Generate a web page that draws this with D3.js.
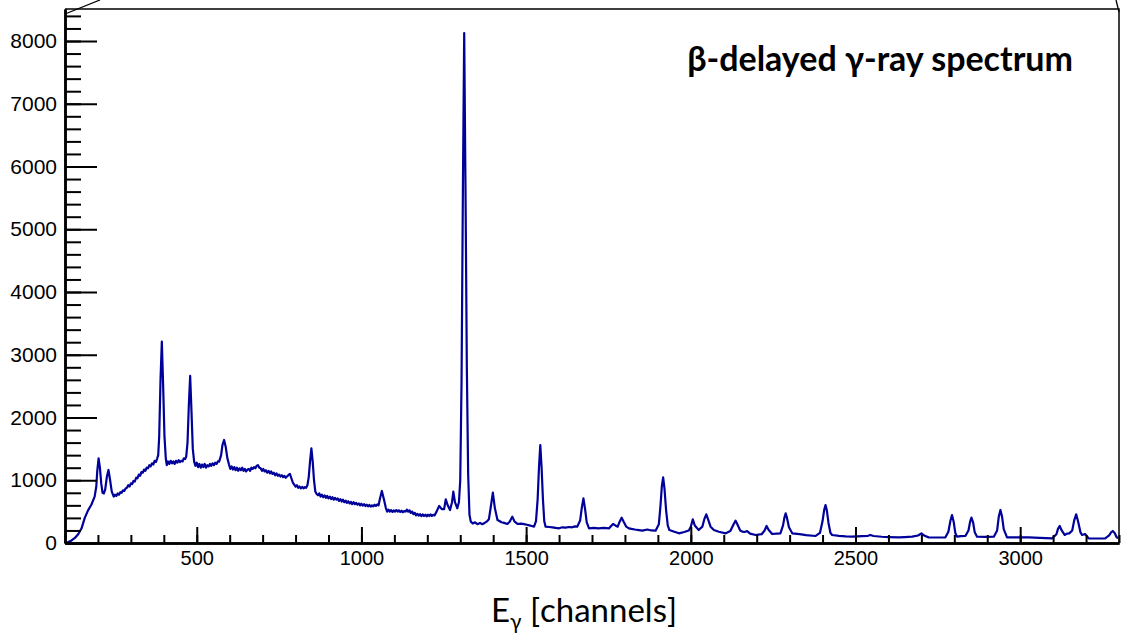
<!DOCTYPE html>
<html>
<head>
<meta charset="utf-8">
<script src="https://cdn.jsdelivr.net/npm/d3@7"></script>
<style>
  body { margin: 0; background: #fff; }
</style>
</head>
<body>
<div id="spectrum-wrapper"></div>
<script>

// Spectrum as [channel, counts], split in three ranges
const lowRange = [
  [103, 0], [110, 15], [120, 40], [130, 80], [140, 140], [150, 230], [160, 400], [170, 520], [180, 610], [190, 740],
  [195, 900], [198, 1150], [202, 1350], [206, 1200], [210, 950], [214, 800], [218, 790], [222, 850], [227, 1050], [232, 1164],
  [237, 1000], [242, 820], [248, 740], [252, 770], [256, 750], [260, 790], [264, 770], [268, 810], [272, 800], [276, 840],
  [280, 830], [284, 870], [288, 880], [292, 920], [296, 900], [300, 950], [304, 940], [308, 990], [312, 980], [316, 1040],
  [320, 1030], [324, 1090], [328, 1070], [332, 1130], [336, 1120], [340, 1170], [344, 1150], [348, 1200], [352, 1190], [356, 1240],
  [360, 1220], [364, 1270], [368, 1250], [372, 1310], [376, 1290], [380, 1350], [383, 1400], [386, 1700], [390, 2600], [394, 3209],
  [398, 2500], [402, 1700], [406, 1350], [409, 1240], [413, 1300], [417, 1260], [421, 1310], [425, 1270], [429, 1300], [433, 1260],
  [437, 1310], [441, 1280], [445, 1320], [449, 1290], [453, 1310], [457, 1300], [461, 1350], [465, 1340], [468, 1376], [472, 1600],
  [476, 2200], [480, 2662], [484, 2100], [488, 1500], [492, 1300], [496, 1230], [500, 1280], [504, 1210], [508, 1260], [512, 1200],
  [516, 1250], [520, 1210], [524, 1260], [528, 1200], [532, 1240], [536, 1220], [540, 1260], [544, 1230], [548, 1270], [552, 1240],
  [556, 1280], [560, 1260], [564, 1300], [568, 1297], [574, 1400], [578, 1560], [583, 1642], [588, 1530], [593, 1350], [598, 1250],
  [602, 1180], [606, 1220], [610, 1170], [614, 1210], [618, 1160], [622, 1200], [626, 1150], [630, 1190], [634, 1160], [638, 1200],
  [642, 1150], [646, 1180], [650, 1140], [654, 1170], [658, 1180], [662, 1150], [666, 1200], [670, 1180], [674, 1210], [678, 1190],
  [682, 1230], [686, 1240], [690, 1200], [694, 1190], [698, 1150], [702, 1180], [706, 1140], [710, 1160], [714, 1120], [718, 1150],
  [722, 1110], [726, 1140], [730, 1100], [734, 1120], [738, 1080], [742, 1110], [746, 1070], [750, 1090], [754, 1060], [758, 1080],
  [762, 1050], [766, 1070], [770, 1040], [774, 1060], [778, 1080], [783, 1100], [788, 1020], [792, 960], [796, 930], [800, 900],
  [804, 920], [808, 880], [812, 900], [816, 870], [820, 895], [824, 870], [828, 890], [832, 880], [836, 920], [840, 1050],
  [844, 1300], [848, 1509], [852, 1300], [856, 1000], [860, 820], [864, 780], [868, 760], [872, 790], [876, 740], [880, 770],
  [884, 730], [888, 760], [892, 720], [896, 750], [900, 710], [904, 740], [908, 700], [912, 730], [916, 690], [920, 720],
  [924, 690], [928, 710], [932, 670], [936, 700], [940, 660], [944, 690], [948, 650], [952, 675], [956, 640], [960, 665],
  [964, 630], [968, 655], [972, 620], [976, 650], [980, 620], [984, 640], [988, 610], [992, 630], [996, 600], [1000, 625],
  [1004, 595], [1008, 620], [1012, 590], [1016, 610], [1020, 585], [1024, 605], [1028, 580], [1032, 600], [1036, 585], [1040, 610],
  [1044, 590], [1048, 615], [1052, 600], [1056, 700], [1062, 829], [1068, 700], [1074, 560], [1078, 500], [1082, 530], [1086, 500],
  [1090, 525], [1094, 495], [1098, 520], [1102, 500], [1106, 525], [1110, 500], [1114, 520], [1118, 495], [1122, 515], [1126, 490],
  [1130, 510], [1134, 500], [1138, 530], [1142, 500], [1146, 520], [1150, 480], [1154, 500], [1158, 460], [1162, 480], [1166, 440],
  [1170, 465], [1174, 435], [1178, 460], [1182, 430], [1186, 455], [1190, 430], [1194, 450], [1198, 425], [1202, 450], [1206, 430],
  [1210, 455], [1214, 430], [1218, 450], [1222, 440], [1228, 500], [1236, 590], [1244, 540], [1251, 540], [1256, 696], [1262, 600],
  [1269, 526], [1275, 650], [1279, 818], [1284, 650], [1291, 553]
];

const midRange = [
  [1296, 650], [1300, 1000], [1304, 2600], [1308, 5600], [1312, 8127], [1316, 5600], [1320, 2800], [1324, 1100], [1328, 450], [1332, 340],
  [1338, 310], [1345, 330], [1352, 300], [1360, 320], [1366, 300], [1372, 313], [1380, 340], [1387, 380], [1392, 550], [1399, 802],
  [1405, 560], [1413, 367], [1419, 350], [1425, 330], [1433, 320], [1443, 303], [1450, 340], [1458, 420], [1465, 340], [1474, 303],
  [1484, 310], [1494, 300], [1502, 290], [1510, 280], [1517, 270], [1524, 260], [1530, 350], [1535, 700], [1539, 1200], [1543, 1562],
  [1547, 1200], [1551, 700], [1555, 350], [1559, 260], [1570, 255], [1580, 250], [1590, 240], [1600, 234], [1610, 250], [1620, 245],
  [1630, 255], [1640, 250], [1648, 265], [1655, 260], [1664, 360], [1669, 560], [1674, 712], [1679, 540], [1684, 330], [1691, 234],
  [1705, 240], [1720, 234], [1735, 240], [1752, 234], [1758, 270], [1764, 303], [1771, 280], [1778, 260], [1784, 340], [1790, 404],
  [1797, 330], [1804, 260], [1812, 234], [1820, 225], [1830, 215], [1842, 205], [1853, 197], [1868, 215], [1880, 200], [1893, 197],
  [1903, 300], [1908, 600], [1912, 900], [1916, 1047], [1920, 870], [1925, 520], [1930, 280], [1935, 207], [1950, 180], [1964, 154],
  [1980, 175], [1994, 200], [2000, 260], [2006, 377], [2012, 280], [2024, 207], [2035, 260], [2041, 380], [2047, 457], [2053, 370],
  [2060, 260], [2070, 207], [2085, 180], [2106, 154], [2120, 190], [2130, 300], [2136, 356], [2142, 290], [2150, 200], [2156, 181],
  [2163, 175], [2171, 190], [2180, 150], [2197, 128], [2215, 140], [2224, 200], [2230, 271], [2236, 210], [2247, 143], [2260, 150]
];

const highRange = [
  [2272, 154], [2280, 280], [2284, 400], [2288, 473], [2292, 400], [2298, 250], [2308, 154], [2330, 140], [2350, 125], [2379, 112],
  [2392, 160], [2400, 350], [2405, 530], [2409, 605], [2413, 520], [2418, 320], [2424, 160], [2429, 128], [2450, 115], [2470, 105],
  [2490, 101], [2520, 110], [2538, 115], [2545, 128], [2555, 112], [2580, 100], [2600, 95], [2631, 90], [2650, 95], [2672, 101],
  [2690, 120], [2700, 154], [2710, 115], [2722, 90], [2750, 88], [2773, 90], [2782, 180], [2788, 350], [2793, 446], [2798, 340],
  [2803, 160], [2808, 101], [2820, 110], [2834, 115], [2843, 200], [2848, 340], [2852, 404], [2857, 330], [2862, 170], [2869, 101],
  [2895, 98], [2920, 101], [2930, 200], [2935, 420], [2940, 526], [2945, 420], [2950, 220], [2960, 90], [2990, 90], [3026, 90],
  [3060, 82], [3097, 74], [3110, 140], [3115, 230], [3120, 271], [3126, 200], [3135, 128], [3142, 150], [3149, 154], [3158, 200],
  [3164, 360], [3170, 457], [3176, 340], [3183, 170], [3188, 128], [3197, 143], [3208, 74], [3230, 72], [3258, 74], [3270, 120],
  [3276, 170], [3281, 191], [3287, 160], [3292, 100], [3297, 74]
];

const xMajorTicks = [500, 1000, 1500, 2000, 2500, 3000];
const yMajorTicks = [0, 1000, 2000, 3000, 4000, 5000, 6000, 7000, 8000];
const titleText = "β-delayed γ-ray spectrum";

function drawSpectrum (chartDiv) {

    const width = 1124;
    const height = 634;

    const left = 65, right = 1119, top = 9, bottom = 543;

    const svg = d3.select(chartDiv)
        .append("svg")
        .attr("width", width)
        .attr("height", height);

    const data = lowRange.concat(midRange, highRange)
        .map(d => ({ch: d[0], n: d[1]}));

    const xScale = d3.scaleLinear()
        .domain([100, 3300])
        .range([left, right]);

    const yScale = d3.scaleLinear()
        .domain([0, 8510])
        .range([bottom, top]);

    svg.append("clipPath")
        .attr("id", "plot-clip")
        .append("rect")
        .attr("x", left)
        .attr("y", top)
        .attr("width", right - left)
        .attr("height", bottom - top);

    // the histogram line
    const line = d3.line()
        .x(d => xScale(d.ch))
        .y(d => yScale(d.n));

    svg.append("path")
        .datum(data)
        .attr("clip-path", "url(#plot-clip)")
        .attr("d", line)
        .attr("fill", "none")
        .attr("stroke", "#00009a")
        .attr("stroke-width", 2.2)
        .attr("stroke-linejoin", "round");

    // frame: top and right edges, plus the two callout lines going off the top
    const frame = svg.append("g")
        .attr("stroke", "#000")
        .attr("fill", "none");
    frame.append("path")
        .attr("d", `M${left},${top}H${right}V${bottom}`)
        .attr("stroke-width", 1.5);
    frame.append("line")
        .attr("x1", left).attr("y1", top + 5)
        .attr("x2", left + 35).attr("y2", 0)
        .attr("stroke-width", 1.3);
    frame.append("line")
        .attr("x1", right).attr("y1", top + 3)
        .attr("x2", right - 3).attr("y2", 0)
        .attr("stroke-width", 1.3);

    // x axis: major ticks with labels, minor ticks every 100
    const xMinor = d3.axisBottom(xScale)
        .tickValues(d3.range(100, 3301, 100))
        .tickSize(-8)
        .tickSizeOuter(0)
        .tickFormat("");
    const xMajor = d3.axisBottom(xScale)
        .tickValues(xMajorTicks)
        .tickSize(-16)
        .tickSizeOuter(0)
        .tickPadding(8)
        .tickFormat(d3.format("d"));

    const gxMinor = svg.append("g")
        .attr("transform", `translate(0,${bottom})`)
        .call(xMinor);
    const gx = svg.append("g")
        .attr("transform", `translate(0,${bottom})`)
        .call(xMajor);

    // y axis: major every 1000, minor every 200
    const yMinor = d3.axisLeft(yScale)
        .tickValues(d3.range(0, 8501, 200))
        .tickSize(-16)
        .tickSizeOuter(0)
        .tickFormat("");
    const yMajor = d3.axisLeft(yScale)
        .tickValues(yMajorTicks)
        .tickSize(-32)
        .tickSizeOuter(0)
        .tickPadding(8)
        .tickFormat(d3.format("d"));

    const gyMinor = svg.append("g")
        .attr("transform", `translate(${left},0)`)
        .call(yMinor);
    const gy = svg.append("g")
        .attr("transform", `translate(${left},0)`)
        .call(yMajor);

    [gxMinor, gx, gyMinor, gy].forEach(g => {
        g.selectAll(".domain").attr("stroke", "#000").attr("stroke-width", 2.5);
        g.selectAll(".tick line").attr("stroke", "#000").attr("stroke-width", 2);
    });

    gx.selectAll(".tick text")
        .attr("fill", "#000")
        .attr("dy", "0.71em")
        .style("font-family", "'Liberation Sans', Arial, sans-serif")
        .style("font-size", "20px");

    gy.selectAll(".tick text")
        .attr("fill", "#000")
        .style("font-family", "'Liberation Sans', Arial, sans-serif")
        .style("font-size", "21px");

    // axis title with the gamma subscript
    const xTitle = svg.append("text")
        .attr("x", (left + right) / 2 - 8)
        .attr("y", 622)
        .attr("text-anchor", "middle")
        .style("font-family", "Lato, 'Open Sans', sans-serif")
        .style("font-size", "33px")
        .attr("fill", "#000");
    xTitle.append("tspan").text("E");
    xTitle.append("tspan")
        .attr("dy", 7)
        .style("font-size", "21px")
        .text("γ");
    xTitle.append("tspan")
        .attr("dy", -7)
        .text(" [channels]");

    // label in the top right corner
    svg.append("text")
        .attr("x", 1073)
        .attr("y", 71)
        .attr("text-anchor", "end")
        .style("font-family", "Lato, 'Open Sans', sans-serif")
        .style("font-weight", "bold")
        .style("font-size", "34px")
        .attr("fill", "#000")
        .text(titleText);
}

document.addEventListener("DOMContentLoaded", function() {
    drawSpectrum("#spectrum-wrapper");
});
</script>
</body>
</html>
